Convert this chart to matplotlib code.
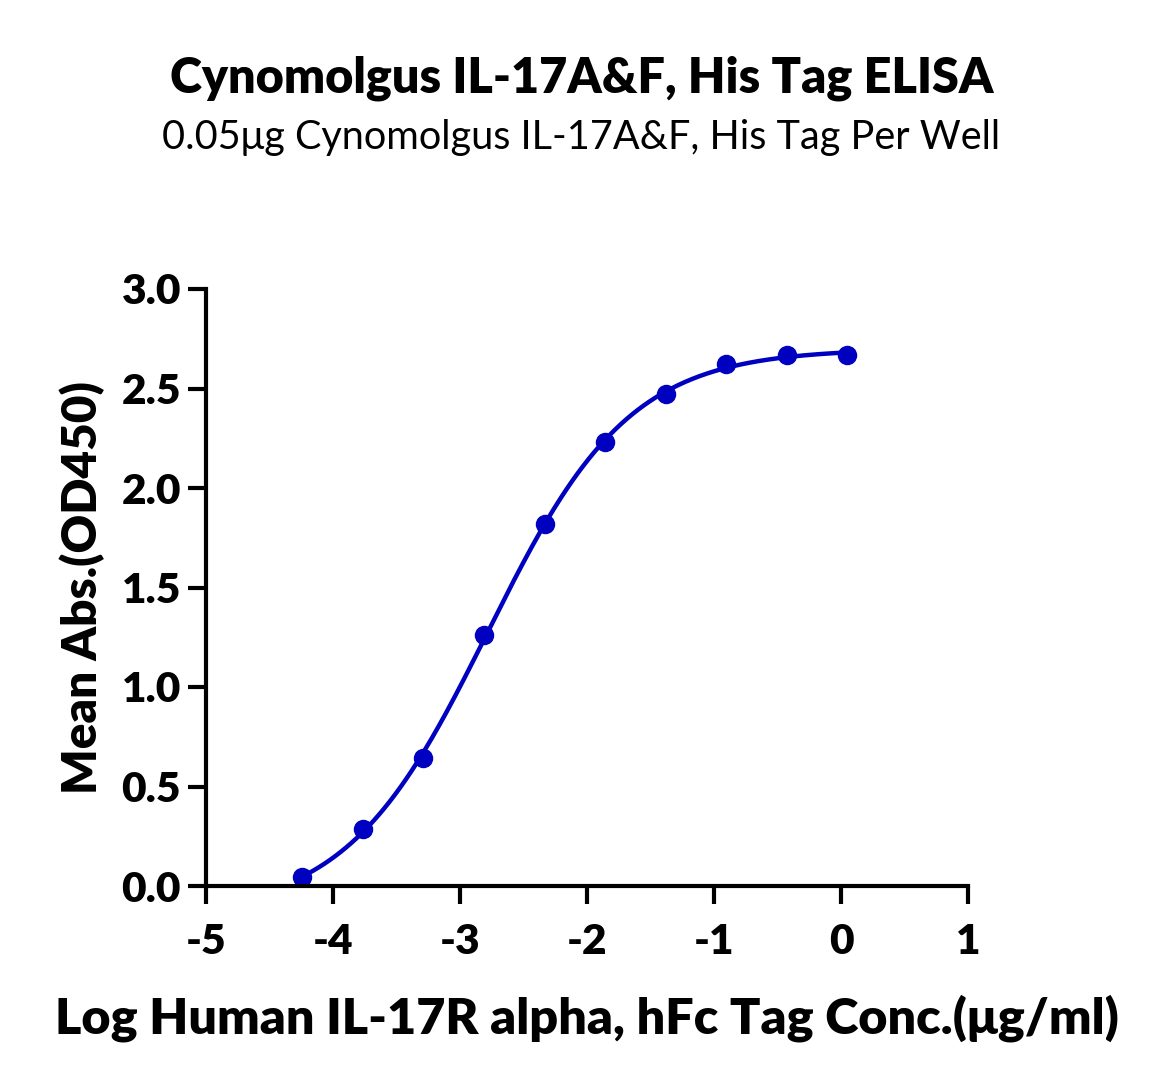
import numpy as np
import matplotlib
matplotlib.use("Agg")
import matplotlib.pyplot as plt

# Dados (log da concentração, absorbância média)
log_conc = [-4.242, -3.765, -3.288, -2.811, -2.334, -1.857, -1.380, -0.903, -0.426, 0.051]
mean_abs = [0.045, 0.286, 0.643, 1.261, 1.819, 2.231, 2.472, 2.623, 2.668, 2.668]

titulo = "Cynomolgus IL-17A&F, His Tag ELISA"
subtitulo = "0.05\u03bcg Cynomolgus IL-17A&F, His Tag Per Well"
rotulo_x = "Log Human IL-17R alpha, hFc Tag Conc.(\u03bcg/ml)"
rotulo_y = "Mean Abs.(OD450)"
x_ticks = [-5, -4, -3, -2, -1, 0, 1]
y_ticks = [0.0, 0.5, 1.0, 1.5, 2.0, 2.5, 3.0]

cor = "#0000C0"

x = np.array(log_conc)
y = np.array(mean_abs)


# ajuste 4PL simples (Levenberg-Marquardt em numpy)
def f4pl(p, xx):
    bottom, top, logec50, hill = p
    return bottom + (top - bottom) / (1 + 10 ** ((logec50 - xx) * hill))


p = np.array([0.0, 2.7, -2.8, 1.0])
lam = 1e-3
for _ in range(500):
    r = y - f4pl(p, x)
    J = np.zeros((len(x), 4))
    for k in range(4):
        dp = np.zeros(4)
        dp[k] = 1e-6
        J[:, k] = (f4pl(p + dp, x) - f4pl(p - dp, x)) / 2e-6
    A = J.T @ J
    step = np.linalg.solve(A + lam * np.diag(np.diag(A)), J.T @ r)
    novo = p + step
    if np.sum((y - f4pl(novo, x)) ** 2) < np.sum(r ** 2):
        p = novo
        lam *= 0.5
    else:
        lam *= 4

xs = np.linspace(x.min(), x.max(), 300)

plt.rcParams['font.family'] = ['Lato', 'DejaVu Sans']

fig = plt.figure(figsize=(11.63, 10.86), dpi=100)
ax = fig.add_axes([206 / 1163, 200 / 1086, 762 / 1163, 597 / 1086])

ax.plot(xs, f4pl(p, xs), color=cor, lw=3.2, clip_on=False)
ax.plot(x, y, 'o', color=cor, ms=13, clip_on=False)

ax.set_xlim(-5, 1)
ax.set_ylim(0, 3)
ax.set_xticks(x_ticks)
ax.set_xticklabels([str(t) for t in x_ticks])
ax.set_yticks(y_ticks)
ax.set_yticklabels([f"{t:.1f}" for t in y_ticks])

for s in ['top', 'right']:
    ax.spines[s].set_visible(False)
for s in ['left', 'bottom']:
    ax.spines[s].set_linewidth(3)
ax.spines['bottom'].set_bounds(-5, 1)

ax.tick_params(axis='both', width=3, length=13, labelsize=30.5)
ax.tick_params(axis='x', pad=14)
ax.tick_params(axis='y', pad=5)
for lab in ax.get_xticklabels() + ax.get_yticklabels():
    lab.set_fontweight('heavy')

ax.set_xlabel(rotulo_x, fontsize=36.3, fontweight='heavy', labelpad=24)
ax.set_ylabel(rotulo_y, fontsize=34.3, fontweight='heavy', labelpad=12)

fig.text(0.5, 1 - 78 / 1086, titulo, ha='center', va='center', fontsize=35, fontweight='heavy')
fig.text(0.5, 1 - 138 / 1086, subtitulo, ha='center', va='center', fontsize=28.5)

fig.savefig("out.png", dpi=100)
